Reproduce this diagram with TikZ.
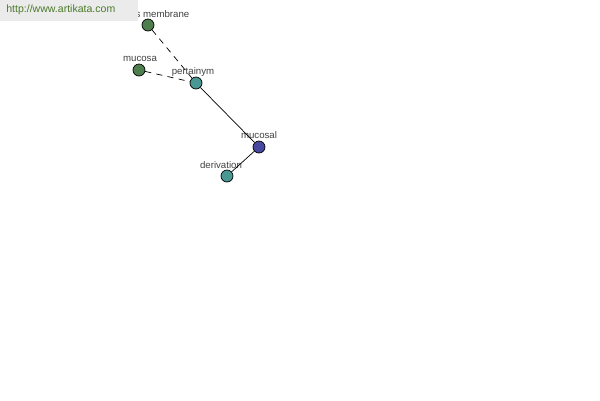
\documentclass[tikz,border=0pt]{standalone}
\usepackage{fontspec}
\setmainfont{Liberation Sans}
\definecolor{leafgreen}{HTML}{4E7D4E}
\definecolor{tealnode}{HTML}{4A9894}
\definecolor{bluenode}{HTML}{4848A0}
\definecolor{markgreen}{HTML}{4A7A2A}
\tikzset{
  word/.style={circle,draw=black,line width=0.4pt,minimum size=0.24cm,inner sep=0pt},
  tag/.style={font=\fontsize{5.5}{6}\selectfont,text=black!75,inner sep=0pt}
}
\begin{document}
\begin{tikzpicture}[x=0.02cm,y=-0.02cm]
                  \useasboundingbox (0,0) rectangle (600,400);
                  \node[word,fill=leafgreen] (membrane) at (148,25) {};
                  \node[word,fill=leafgreen] (mucosa) at (139,70) {};
                  \node[word,fill=tealnode] (pertainym) at (196,83) {};
                  \node[word,fill=bluenode] (mucosal) at (259,147) {};
                  \node[word,fill=tealnode] (derivation) at (227,176) {};
                  \node[tag] (membraneL) at (148,14) {mucous membrane};
                  \node[tag] (mucosaL) at (140,59) {mucosa};
                  \node[tag] (pertainymL) at (193,72) {pertainym};
                  \node[tag] (mucosalL) at (259,135) {mucosal};
                  \node[tag] (derivationL) at (221,165) {derivation};
                  \path[dash pattern=on 3.5pt off 3pt,line width=0.4pt] (membrane) edge (pertainym) (mucosa) edge (pertainym);
                  \path[-,line width=0.4pt] (pertainym) edge (mucosal) (mucosal) edge (derivation);
                  \fill[black!8] (0,0) rectangle (138,21);
                  \node[font=\fontsize{6}{7}\selectfont,text=markgreen,anchor=west,inner sep=0pt] (site) at (6,10) {http://www.artikata.com};
              \end{tikzpicture}
\end{document}
